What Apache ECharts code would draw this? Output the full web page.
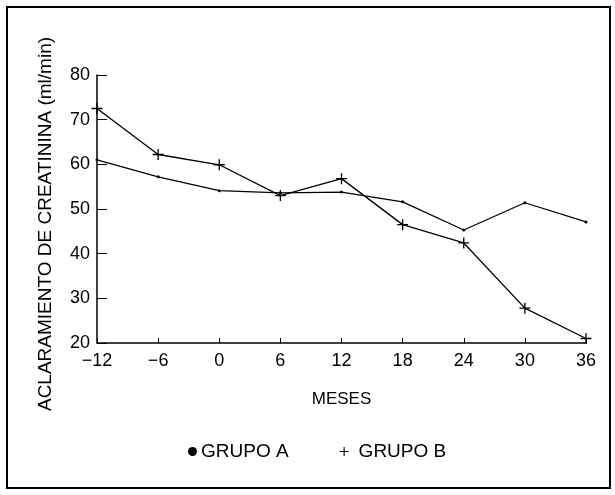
<!DOCTYPE html>
<html>
<head>
<meta charset="utf-8">
<title>Aclaramiento de creatinina</title>
<script src="https://cdn.jsdelivr.net/npm/echarts@6/dist/echarts.min.js"></script>
<style>
  html, body { margin: 0; padding: 0; background: #fff; }
  #main { width: 615px; height: 495px; }
</style>
</head>
<body>
<div id="main"></div>
<script>
// datos
var meses = [-12, -6, 0, 6, 12, 18, 24, 30, 36];
var grupoA = [61, 57.2, 54.1, 53.6, 53.8, 51.6, 45.3, 51.4, 47.1];
var grupoB = [72.5, 62.2, 59.9, 53, 56.8, 46.5, 42.4, 27.8, 21];
var yTicks = [20, 30, 40, 50, 60, 70, 80];

var FONT = '"Liberation Sans", sans-serif';
var PLUS = 'path://M4.4,0h1.2v10h-1.2z M0,4.4h10v1.2h-10z';

var chart = echarts.init(document.getElementById('main'));

function pares(ys) {
  return meses.map(function (m, i) { return [m, ys[i]]; });
}

var option = {
  backgroundColor: '#fff',
  animation: false,
  textStyle: { fontFamily: FONT, color: '#000' },
  grid: { left: 97, right: 29, top: 75, bottom: 152 },
  xAxis: {
    type: 'value',
    min: -12, max: 36, interval: 6,
    name: 'MESES',
    nameLocation: 'middle',
    nameGap: 48,
    nameTextStyle: { fontFamily: FONT, fontSize: 17, color: '#000' },
    axisLine: { onZero: false, lineStyle: { color: '#000', width: 1.5 } },
    axisTick: { inside: true, length: 5, lineStyle: { color: '#000' } },
    axisLabel: {
      fontFamily: FONT, fontSize: 18, color: '#000', margin: 9,
      formatter: function (v) { return String(v).replace('-', '\u2212'); }
    },
    splitLine: { show: false }
  },
  yAxis: {
    type: 'value',
    min: yTicks[0], max: yTicks[yTicks.length - 1], interval: 10,
    name: 'ACLARAMIENTO DE CREATININA (ml/min)',
    nameLocation: 'middle',
    nameGap: 42,
    nameTextStyle: { fontFamily: FONT, fontSize: 19, color: '#000', padding: [0, 30, 0, 0] },
    axisLine: { show: true, onZero: false, lineStyle: { color: '#000', width: 1.5 } },
    axisTick: { show: true, inside: true, length: 10, lineStyle: { color: '#000' } },
    axisLabel: { fontFamily: FONT, fontSize: 18, color: '#000', margin: 7 },
    splitLine: { show: false }
  },
  legend: {
    left: 183, top: 437,
    itemWidth: 9, itemHeight: 9, itemGap: 51,
    textStyle: { fontFamily: FONT, fontSize: 19, color: '#000', padding: [0, 0, 0, -1] },
    data: [
      { name: 'GRUPO A', icon: 'circle' },
      { name: 'GRUPO B', icon: PLUS, textStyle: { padding: [0, 0, 0, 5] } }
    ]
  },
  graphic: [{
    type: 'rect',
    shape: { x: 7, y: 7, width: 603, height: 481 },
    style: { fill: 'none', stroke: '#000', lineWidth: 2 },
    silent: true
  }],
  series: [{
    name: 'GRUPO A',
    type: 'line',
    data: pares(grupoA),
    symbol: 'circle',
    symbolSize: 3,
    itemStyle: { color: '#000' },
    lineStyle: { color: '#000', width: 1.3 }
  }, {
    name: 'GRUPO B',
    type: 'line',
    data: pares(grupoB),
    symbol: PLUS,
    symbolSize: 11,
    itemStyle: { color: '#000' },
    lineStyle: { color: '#000', width: 1.3 }
  }]
};

chart.setOption(option);
</script>
</body>
</html>
